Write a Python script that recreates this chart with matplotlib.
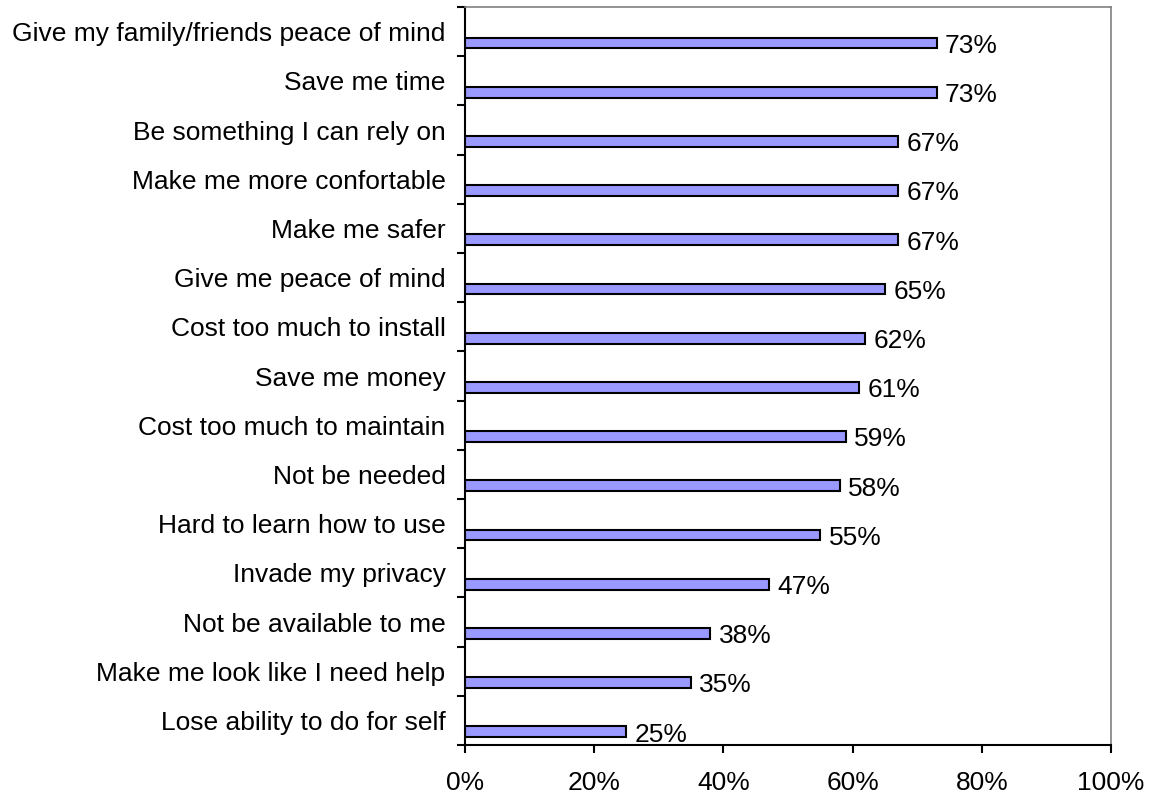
import numpy as np
import matplotlib.pyplot as plt

plt.rcParams['font.family'] = ['Liberation Sans', 'DejaVu Sans']

labels = ['Give my family/friends peace of mind', 'Save me time',
          'Be something I can rely on', 'Make me more confortable',
          'Make me safer', 'Give me peace of mind', 'Cost too much to install',
          'Save me money', 'Cost too much to maintain', 'Not be needed',
          'Hard to learn how to use', 'Invade my privacy',
          'Not be available to me', 'Make me look like I need help',
          'Lose ability to do for self']
values = [73, 73, 67, 67, 67, 65, 62, 61, 59, 58, 55, 47, 38, 35, 25]
xticks = [0, 20, 40, 60, 80, 100]

n = len(labels)
pos = np.arange(n)

fig = plt.figure(figsize=(11.52, 7.97), dpi=100)
ax = fig.add_axes([0.4036, 0.0652, 0.5608, 0.926])

# bars sit in the lower part of each category band
ax.barh(pos + 0.23, values, height=0.22, color='#9999FF',
        edgecolor='black', linewidth=1.5)
for p, v in zip(pos, values):
    ax.annotate('%d%%' % v, (v, p + 0.23), xytext=(6, -2),
                textcoords='offset points', va='center', ha='left',
                fontsize=19)

ax.set_xlim(0, 100)
ax.set_ylim(n - 0.5, -0.5)
ax.set_xticks(xticks)
ax.set_xticklabels(['%d%%' % t for t in xticks], fontsize=19)
ax.tick_params(axis='x', direction='out', length=6, width=1.5, pad=13)

ax.set_yticks(pos)
ax.set_yticklabels(labels, fontsize=19)
ax.tick_params(axis='y', which='major', length=0, pad=14)
ax.set_yticks(np.arange(n + 1) - 0.5, minor=True)
ax.tick_params(axis='y', which='minor', direction='out', length=6, width=1.5)

for s in ['left', 'bottom']:
    ax.spines[s].set_color('black')
    ax.spines[s].set_linewidth(1.5)
for s in ['top', 'right']:
    ax.spines[s].set_color('#808080')
    ax.spines[s].set_linewidth(1.2)

fig.savefig('out.png', dpi=100)
